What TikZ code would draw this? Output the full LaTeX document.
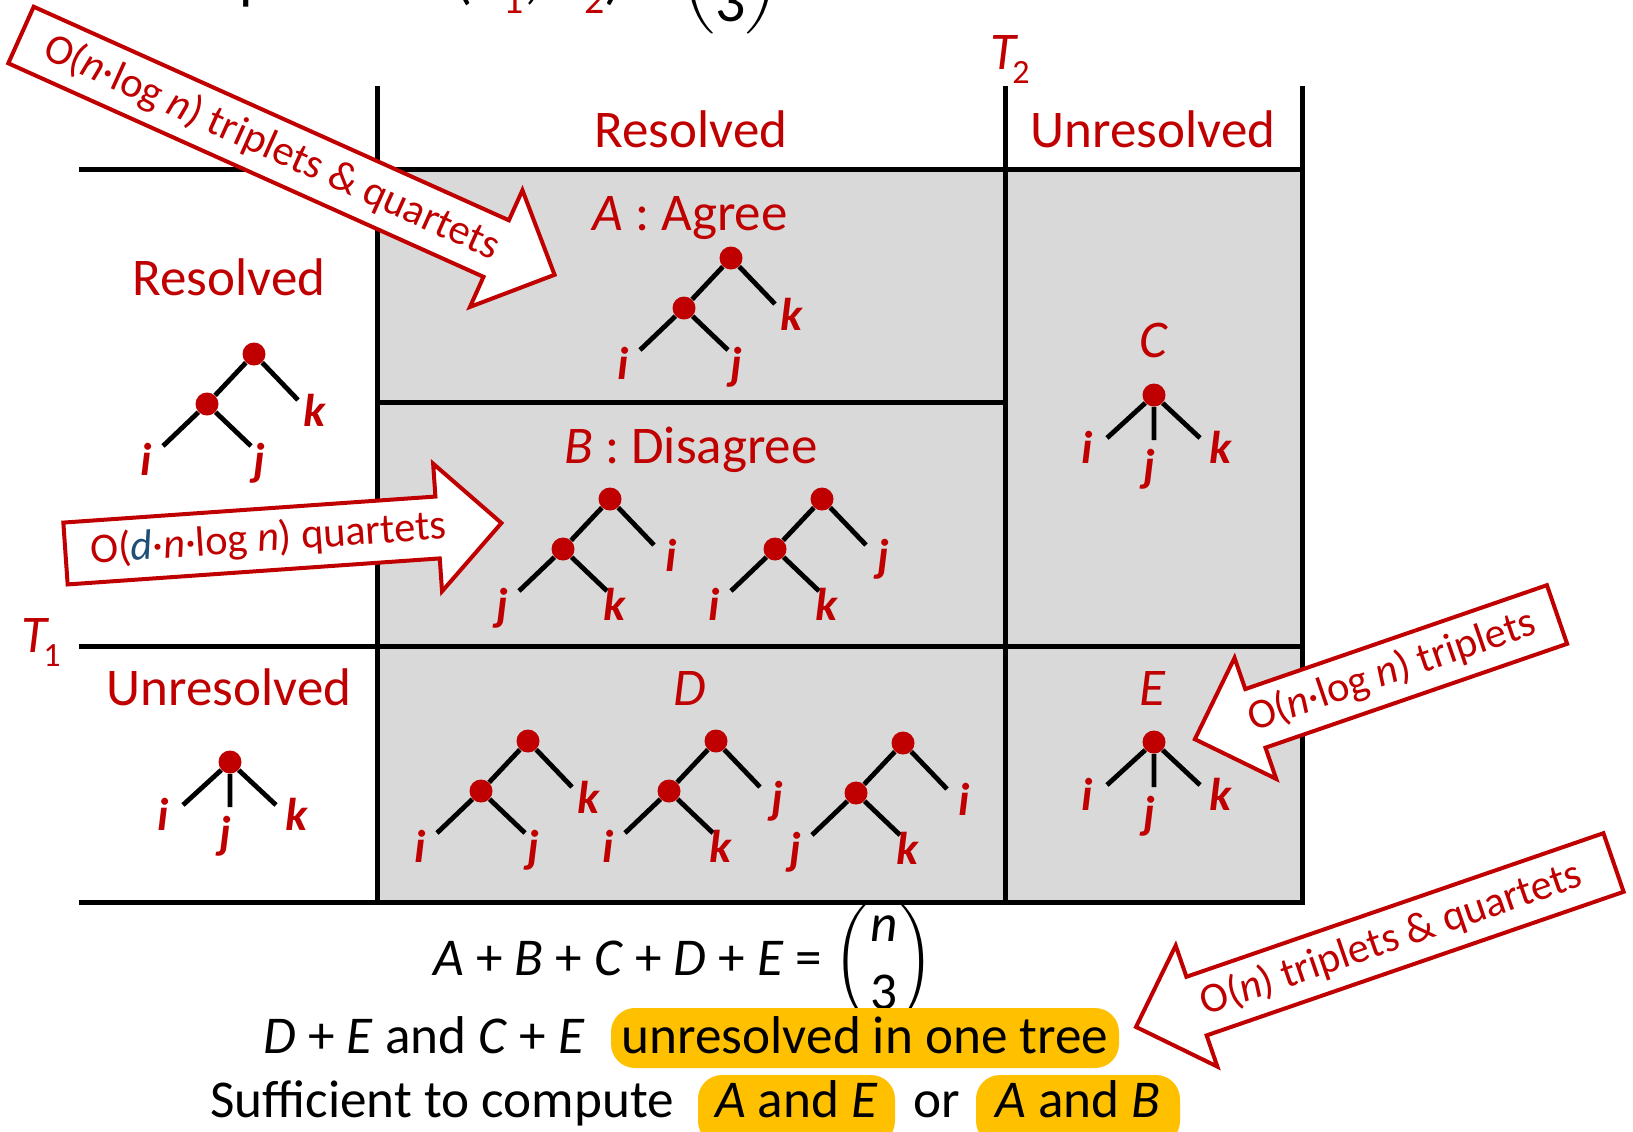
\documentclass[tikz,border=0pt]{standalone}
\usepackage{fontspec}
\setmainfont{Carlito}
\usepackage{amsmath}
\definecolor{dred}{RGB}{192,0,0}
\definecolor{cellgray}{RGB}{217,217,217}
\definecolor{hlorange}{RGB}{255,192,0}
\definecolor{dblue}{RGB}{31,78,121}
\newcommand\mybintree[5]{%
  \begin{scope}[shift={#2}]
    \node[dot] (#1r) at (0,0) {};
    \node[dot] (#1m) at (-47,50) {};
    \coordinate (#1a) at (-91,92);
    \coordinate (#1b) at (-3,92);
    \coordinate (#1c) at (44,46);
    \draw[treeedge] (#1r) -- (#1m) (#1m) -- (#1a) (#1m) -- (#1b) (#1r) -- (#1c);
    \node[leaf] (#1la) at (-108,121) {#3};
    \node[leaf] (#1lb) at (5,121) {#4};
    \node[leaf] (#1lc) at (61,72) {#5};
  \end{scope}}
\newcommand\mystartree[2]{%
  \begin{scope}[shift={#2}]
    \node[dot] (#1r) at (0,0) {};
    \coordinate (#1a) at (-47,43);
    \coordinate (#1b) at (0,45);
    \coordinate (#1c) at (46,43);
    \draw[treeedge] (#1r) -- (#1a) (#1r) -- (#1b) (#1r) -- (#1c);
    \node[leaf] (#1la) at (-67,68) {i};
    \node[leaf] (#1lb) at (-5,86) {j};
    \node[leaf] (#1lc) at (67,68) {k};
  \end{scope}}
\newcommand\myblockarrow[7]{%
  \begin{scope}[shift={#2}, rotate=#3]
    \draw[arrowbox] (0,-31) -- ({#4-64},-31) -- ({#4-64},-64) -- (#4,0) -- ({#4-64},64) -- ({#4-64},31) -- (0,31) -- cycle;
    \node[arrowtext, rotate=#5] (#1) at ({#6*#4},0) {#7};
  \end{scope}}
\begin{document}
\begin{tikzpicture}[x=0.5pt,y=-0.5pt,
  tableline/.style={line width=2.5pt, black, line cap=rect},
  dot/.style={circle, fill=dred, inner sep=0pt, minimum size=11.5pt},
  treeedge/.style={line width=2.4pt, black},
  leaf/.style={text=dred, font=\fontsize{23}{27}\selectfont\bfseries\itshape, anchor=base, inner sep=0pt},
  hdr/.style={text=dred, font=\fontsize{26.5}{31}\selectfont, anchor=base, inner sep=0pt},
  arrowbox/.style={draw=dred, fill=white, line width=2pt, line join=miter},
  arrowtext/.style={text=dred, font=\fontsize{21.2}{25}\selectfont, inner sep=0pt},
  bodytext/.style={font=\fontsize{26.6}{31}\selectfont, anchor=base, inner sep=0pt},
  hl/.style={fill=hlorange, rounded corners=12pt},
]
\useasboundingbox (0,0) rectangle (1633,1131);
% cut-off title line (only its lowest parts fall inside the picture)
\node[anchor=base west, inner sep=0pt, font=\fontsize{30}{36}\selectfont] (title) at (128,-3)
  {Compute dist(\textcolor{dred}{\textit{T}\raisebox{-8pt}{\fontsize{20}{24}\selectfont 1}}, \textcolor{dred}{\textit{T}\raisebox{-8pt}{\fontsize{20}{24}\selectfont 2}}) =\hspace{6pt}\raisebox{5pt}{$\dbinom{\mbox{\textit{n}}}{\mbox{3}}$} − \textit{A} − \textit{E}};
% grey cells
\fill[cellgray] (377,169) rectangle (1302,902);
% table lines
\draw[tableline] (81,169) -- (1302,169);
\draw[tableline] (377,402) -- (1005,402);
\draw[tableline] (81,646) -- (1302,646);
\draw[tableline] (81,902) -- (1302,902);
\draw[tableline] (377,88) -- (377,902);
\draw[tableline] (1005,88) -- (1005,902);
\draw[tableline] (1302,88) -- (1302,902);
% headers
\node[hdr] (hR2) at (691,147) {Resolved};
\node[hdr] (hU2) at (1153,147) {Unresolved};
\node[hdr] (hR1) at (229,295) {Resolved};
\node[hdr] (hU1) at (229,705) {Unresolved};
\node[hdr, anchor=base west] (t2) at (990,69) {\textit{T}\hspace{-3pt}\raisebox{-7pt}{\fontsize{17}{20}\selectfont 2}};
\node[hdr, anchor=base west] (t1) at (21,652) {\textit{T}\hspace{-3pt}\raisebox{-7pt}{\fontsize{17}{20}\selectfont 1}};
\node[hdr] (lA) at (690,230) {\textit{A} : Agree};
\node[hdr] (lB) at (691,463) {\textit{B} : Disagree};
\node[hdr] (lC) at (1154,357) {\textit{C}};
\node[hdr] (lD) at (690,705) {\textit{D}};
\node[hdr] (lE) at (1153,705) {\textit{E}};
% trees
\mybintree{tL}{(254,354)}{i}{j}{k}
\mybintree{tA}{(731,258)}{i}{j}{k}
\mybintree{tBa}{(610,499)}{j}{k}{i}
\mybintree{tBb}{(822,499)}{i}{k}{j}
\mybintree{tDa}{(528,741)}{i}{j}{k}
\mybintree{tDb}{(716,741)}{i}{k}{j}
\mybintree{tDc}{(903,743)}{j}{k}{i}
\mystartree{sL}{(230,762)}
\mystartree{sC}{(1154,395)}
\mystartree{sE}{(1154,742)}
% block arrows
\myblockarrow{arA}{(21,35)}{-24.2}{585}{-24.2}{0.47}{O(\textit{n}·log \textit{n}) triplets \& quartets}
\myblockarrow{arB}{(65.5,553.5)}{4.0}{437}{4.0}{0.465}{O(\textcolor{dblue}{\textit{d}}·\textit{n}·log \textit{n}) quartets}
\myblockarrow{arE}{(1557,614.5)}{199}{383}{19}{0.456}{O(\textit{n}·log \textit{n}) triplets}
\myblockarrow{arAE}{(1613.5,862.5)}{199}{505}{19}{0.466}{O(\textit{n}) triplets \& quartets}
% bottom text
\node[bodytext] (eq) at (684,975) {\textit{A} + \textit{B} + \textit{C} + \textit{D} + \textit{E} = $\dbinom{\mbox{\textit{n}}}{\mbox{3}}$};
\node[bodytext, anchor=base west] (l2) at (263,1053) {\textit{D} + \textit{E} and \textit{C} + \textit{E}};
\fill[hl] (611,1008) rectangle (1119,1068);
\node[bodytext] (u1) at (865,1053) {unresolved in one tree};
\node[bodytext, anchor=base west] (l3) at (210,1117) {Sufficient to compute};
\fill[hl] (698,1075) rectangle (895,1145);
\node[bodytext] (ae) at (796.5,1117) {\textit{A} and \textit{E}};
\node[bodytext, anchor=base west] (or) at (913,1117) {or};
\fill[hl] (976,1075) rectangle (1180,1145);
\node[bodytext] (ab) at (1078,1117) {\textit{A} and \textit{B}};
\end{tikzpicture}
\end{document}
